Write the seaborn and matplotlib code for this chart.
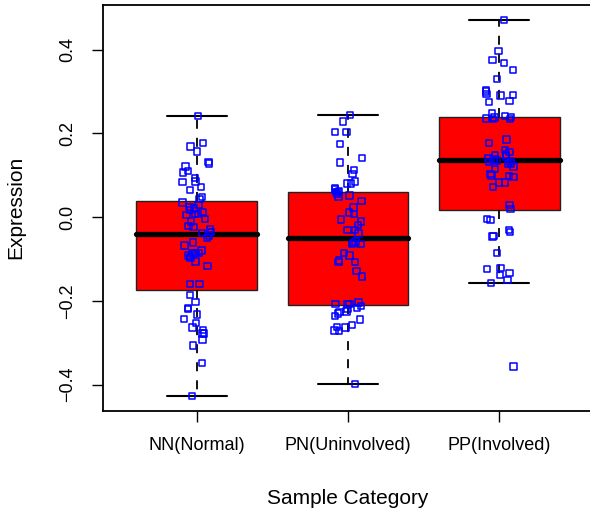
import numpy as np
import pandas as pd
import matplotlib
matplotlib.use("Agg")
import matplotlib.pyplot as plt
import seaborn as sns

# ---- data ----
categories = ["NN(Normal)", "PN(Uninvolved)", "PP(Involved)"]

nn_values = [0.242, 0.177, 0.169, 0.157, 0.132, 0.128, 0.121, 0.111, 0.107, 0.093,
             0.084, 0.085, 0.072, 0.065, 0.048, 0.044, 0.035, 0.029, 0.025, 0.021,
             0.017, 0.012, 0.007, 0.005, 0.007, -0.004, -0.010, -0.021, -0.024, -0.029,
             -0.035, -0.038, -0.044, -0.050, -0.061, -0.068, -0.080, -0.086, -0.087, -0.092,
             -0.086, -0.086, -0.095, -0.098, -0.106, -0.116, -0.159, -0.159, -0.186, -0.202,
             -0.217, -0.220, -0.233, -0.244, -0.253, -0.264, -0.269, -0.278, -0.278, -0.292,
             -0.307, -0.348, -0.427]

pn_values = [0.244, 0.229, 0.203, 0.203, 0.175, 0.142, 0.131, 0.112, 0.103, 0.085,
             0.080, 0.080, 0.069, 0.066, 0.063, 0.060, 0.060, 0.056, 0.052, 0.049,
             0.039, 0.023, 0.011, 0.007, -0.006, -0.010, -0.018, -0.030, -0.030, -0.039,
             -0.058, -0.062, -0.064, -0.064, -0.086, -0.092, -0.104, -0.107, -0.107, -0.129,
             -0.142, -0.204, -0.207, -0.207, -0.208, -0.213, -0.217, -0.220, -0.225, -0.226,
             -0.230, -0.236, -0.245, -0.258, -0.262, -0.264, -0.271, -0.272, -0.399]

pp_values = [0.471, 0.397, 0.375, 0.368, 0.352, 0.330, 0.304, 0.300, 0.294, 0.292,
             0.291, 0.277, 0.275, 0.248, 0.242, 0.240, 0.238, 0.236, 0.235, 0.234,
             0.186, 0.177, 0.161, 0.155, 0.150, 0.148, 0.145, 0.140, 0.138, 0.135,
             0.133, 0.132, 0.128, 0.127, 0.121, 0.115, 0.103, 0.100, 0.098, 0.096,
             0.083, 0.083, 0.072, 0.029, 0.019, -0.005, -0.007, -0.031, -0.036, -0.045,
             -0.046, -0.085, -0.121, -0.124, -0.134, -0.138, -0.150, -0.158, -0.357]

# box statistics (lower whisker, Q1, median, Q3, upper whisker)
box_whislo = [-0.427, -0.399, -0.158]
box_q1 = [-0.174, -0.210, 0.017]
box_med = [-0.040, -0.050, 0.137]
box_q3 = [0.039, 0.061, 0.240]
box_whishi = [0.242, 0.244, 0.471]

y_ticks = [-0.4, -0.2, 0.0, 0.2, 0.4]
y_ticklabels = ["\u22120.4", "\u22120.2", "0.0", "0.2", "0.4"]

x_label = "Sample Category"
y_label = "Expression"

# ---- build table ----
df = pd.DataFrame({
    "Sample Category": (["NN(Normal)"] * len(nn_values)
                        + ["PN(Uninvolved)"] * len(pn_values)
                        + ["PP(Involved)"] * len(pp_values)),
    "Expression": nn_values + pn_values + pp_values,
})

sns.set_theme(style="ticks")
plt.rcParams["font.family"] = ["Liberation Sans", "DejaVu Sans"]
plt.rcParams["text.color"] = "black"
plt.rcParams["axes.labelcolor"] = "black"
plt.rcParams["xtick.color"] = "black"
plt.rcParams["ytick.color"] = "black"

fig = plt.figure(figsize=(5.9, 5.18), dpi=100)
ax = fig.add_axes([103 / 590, 107.5 / 518, 490 / 590, 405.5 / 518])

stats = []
for i, c in enumerate(categories):
    stats.append(dict(label=c, whislo=box_whislo[i], q1=box_q1[i], med=box_med[i],
                      q3=box_q3[i], whishi=box_whishi[i], fliers=[]))

ax.bxp(stats, positions=range(len(categories)), widths=0.8, capwidths=0.4,
       patch_artist=True, showfliers=False,
       boxprops=dict(facecolor="#FF0000", edgecolor="#222222", linewidth=1.0),
       medianprops=dict(color="black", linewidth=3.8, solid_capstyle="round"),
       whiskerprops=dict(color="black", linestyle=(0, (5, 5)), linewidth=1.3),
       capprops=dict(color="black", linewidth=1.5))

np.random.seed(3)
sns.stripplot(data=df, x="Sample Category", y="Expression", order=categories,
              jitter=0.1, marker="s", size=4.6, color="#0000FF",
              linewidth=1.1, edgecolor="#0000FF", ax=ax)
for coll in ax.collections:
    coll.set_facecolor("none")
    coll.set_edgecolor("#0000FF")
    coll.set_linewidth(1.1)
    coll.set_zorder(4)

ax.set_xlim(-0.62, 2.62)
ax.set_ylim(-0.462, 0.507)
ax.set_xticks(range(len(categories)))
ax.set_xticklabels(categories)
ax.set_yticks(y_ticks)
ax.set_yticklabels(y_ticklabels)
for lab in ax.get_yticklabels():
    lab.set_rotation(90)
    lab.set_va("center")

ax.tick_params(axis="both", direction="out", length=8, width=1.0, pad=11,
               labelsize=13, colors="black", labelcolor="black")
for sp in ax.spines.values():
    sp.set_visible(True)
    sp.set_color("black")
    sp.set_linewidth(1.3)

ax.set_xlabel(x_label, fontsize=15, color="black")
ax.set_ylabel(y_label, fontsize=15, color="black")
ax.xaxis.set_label_coords(0.5, -0.1936)
ax.yaxis.set_label_coords(-0.159, 0.5)
ax.set_facecolor("white")
fig.patch.set_facecolor("white")

fig.savefig("out.png", dpi=100)
